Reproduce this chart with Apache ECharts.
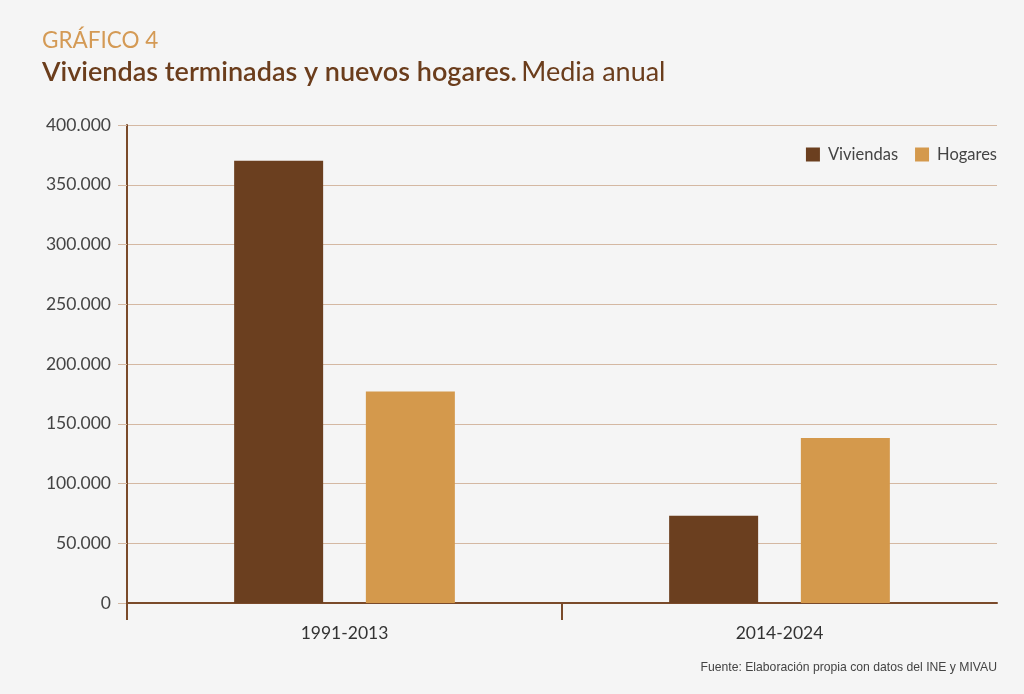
<!DOCTYPE html>
<html>
<head>
<meta charset="utf-8">
<script src="https://cdn.jsdelivr.net/npm/echarts@6/dist/echarts.min.js"></script>
<style>
html,body{margin:0;padding:0;background:#f5f5f5;}
#c{width:1024px;height:694px;}
</style>
</head>
<body>
<div id="c"></div>
<script>
const categories = ['1991-2013', '2014-2024'];
const viviendas = [370000, 73000];
const hogares = [177000, 138000];
const seriesNames = ['Viviendas', 'Hogares'];

const chart = echarts.init(document.getElementById('c'));
const fmt = v => v === 0 ? '0' : String(v).replace(/\B(?=(\d{3})+(?!\d))/g, '.');
const brown = '#7a4a2a';
chart.setOption({
  backgroundColor: '#f5f5f5',
  textStyle: { fontFamily: 'Lato' },
  title: [
    { text: 'GRÁFICO 4', left: 37, top: 24, textStyle: { fontFamily: 'Lato', fontSize: 22.5, fontWeight: 'normal', color: '#d49a55' } },
    { text: '{b|Viviendas terminadas y nuevos hogares.} {n|Media anual}', left: 37, top: 54,
      textStyle: { rich: {
        b: { fontFamily: 'Lato', fontSize: 27, fontWeight: 600, color: '#6b3d1c' },
        n: { fontFamily: 'Lato', fontSize: 27, fontWeight: 'normal', color: '#6b3d1c' }
      } } },
    { text: 'Fuente: Elaboración propia con datos del INE y MIVAU', right: 22, top: 657,
      textStyle: { fontFamily: 'Liberation Sans', fontSize: 12.2, fontWeight: 'normal', color: '#444' } }
  ],
  legend: {
    right: 22, top: 141, itemWidth: 14, itemHeight: 14, itemGap: 17,
    icon: 'rect',
    textStyle: { fontFamily: 'Lato', fontSize: 16.5, color: '#444', padding: [0, 0, 0, 3] },
    data: seriesNames
  },
  grid: { left: 127, right: 27, top: 125, bottom: 91, containLabel: false },
  xAxis: {
    type: 'category', data: categories,
    axisLine: { lineStyle: { color: brown, width: 2 } },
    axisTick: { show: false },
    axisLabel: { fontFamily: 'Lato', fontSize: 17.5, color: '#333', margin: 21 }
  },
  yAxis: {
    type: 'value', min: 0, max: 400000, interval: 50000,
    axisLine: { show: true, lineStyle: { color: brown, width: 2 } },
    axisTick: { show: true, length: 9, lineStyle: { color: '#d4b8a2' } },
    splitLine: { lineStyle: { color: '#d4b8a2', width: 1 } },
    axisLabel: { fontFamily: 'Lato', fontSize: 17.5, color: '#444', margin: 16, formatter: fmt }
  },
  series: [
    { name: seriesNames[0], type: 'bar', data: viviendas, barWidth: 89, barGap: '48%',
      itemStyle: { color: '#6b3f1f' } },
    { name: seriesNames[1], type: 'bar', data: hogares, barWidth: 89,
      itemStyle: { color: '#d4994c' } }
  ]
});

// boundary ticks below the x axis: left edge and between categories (no tick at the right end)
const p0 = chart.convertToPixel({ xAxisIndex: 0 }, categories[0]);
const p1 = chart.convertToPixel({ xAxisIndex: 0 }, categories[1]);
const yZero = chart.convertToPixel({ yAxisIndex: 0 }, 0);
const band = p1 - p0;
const tickXs = [p0 - band / 2, (p0 + p1) / 2];
chart.setOption({
  graphic: tickXs.map(x => ({
    type: 'line', silent: true, z: 10,
    shape: { x1: x, y1: yZero, x2: x, y2: yZero + 17 },
    style: { stroke: brown, lineWidth: 2 }
  }))
});
</script>
</body>
</html>
